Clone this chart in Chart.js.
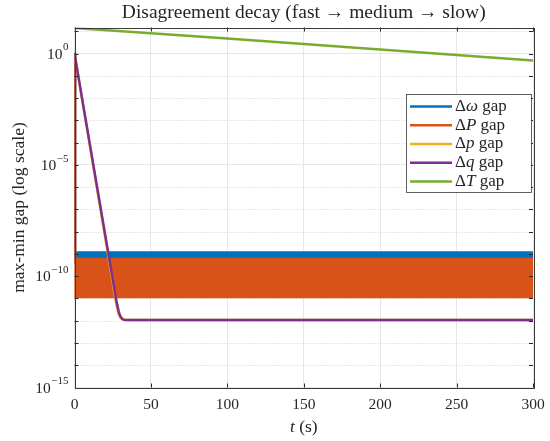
<!DOCTYPE html>
<html>
<head>
<meta charset="utf-8">
<script src="https://cdn.jsdelivr.net/npm/chart.js@4.4.0/dist/chart.umd.min.js"></script>
<style>html,body{margin:0;padding:0;background:#fff}#wrap{width:550px;height:441px}</style>
</head>
<body>
<div id="wrap"><canvas id="c" width="550" height="441"></canvas></div>
<script>
/* Disagreement decay chart */
const SERIF='"Liberation Serif","DejaVu Serif",serif';
const INK='#262626';

// time grids (s) and gap values
const tDrop=[0,0.3,300];
const omegaHi=[1.1,1.15e-9,1.15e-9];     // upper edge of the blue band
const omegaLo=[1.1,4e-10,4e-10];         // lower edge (hidden under orange)
const powerHi=[1,5.9e-10,5.9e-10];       // upper edge of the orange band
const powerLo=[1,1.17e-11,1.17e-11];     // lower edge of the orange band
const tP=[0,5,10,15,20,25,27,28,29,30,31,33,300];
const pGap=[1,8.5e-3,7.5e-5,6.5e-7,5.8e-9,5.2e-11,7.5e-12,3.5e-12,1.9e-12,1.4e-12,1.18e-12,1.07e-12,1.07e-12];
const tQ=[0,5,10,15,20,25,27,28,29,30,31,32,34,300];
const qGap=[1,9.3e-3,8.9e-5,8.3e-7,7.9e-9,7.4e-11,1.12e-11,5e-12,2.5e-12,1.58e-12,1.26e-12,1.12e-12,1.07e-12,1.07e-12];
const tT=[0,100,200,300];
const TGap=[14,4.75,1.52,0.49];

const seriesSymbols=['ω','P','p','q','T'];
const seriesColors=['#0072BD','#D95319','#EDB120','#7E2F8E','#77AC30'];
const xTicks=[0,50,100,150,200,250,300];
const yDecades=[-15,-14,-13,-12,-11,-10,-9,-8,-7,-6,-5,-4,-3,-2,-1,0,1];
const yLabelExps=[0,-5,-10,-15];
const yMin=1e-15,yMax=14.8;

const pts=(xs,ys)=>xs.map((x,i)=>({x,y:ys[i]}));
const isMajor=v=>Math.round(Math.log10(v))%5===0;
const decadeTicks=s=>{s.ticks=yDecades.map(e=>({value:Math.pow(10,e)}));};

function line(label,data,color,order,extra){
  return Object.assign({label,data,borderColor:color,backgroundColor:color,borderWidth:2.5,
    pointRadius:0,tension:0,order,fill:false},extra||{});
}

const datasets=[
  line(seriesSymbols[0],pts(tDrop,omegaHi),seriesColors[0],6,{fill:'+1'}),
  line('',pts(tDrop,omegaLo),seriesColors[0],6),
  line(seriesSymbols[1],pts(tDrop,powerHi),seriesColors[1],5,{fill:'+1'}),
  line('',pts(tDrop,powerLo),seriesColors[1],5),
  line(seriesSymbols[2],pts(tP,pGap),seriesColors[2],3),
  line(seriesSymbols[3],pts(tQ,qGap),seriesColors[3],2),
  line(seriesSymbols[4],pts(tT,TGap),seriesColors[4],1)
];

// draw a run of upright / italic pieces
function runs(ctx,parts,x,y,size,align){
  const w=parts.map(p=>{ctx.font=(p.it?'italic ':'')+size+'px '+SERIF;return ctx.measureText(p.t).width;});
  const tot=w.reduce((a,b)=>a+b,0);
  let cx=align==='center'?x-tot/2:align==='right'?x-tot:x;
  ctx.textAlign='left';ctx.textBaseline='middle';
  parts.forEach((p,i)=>{ctx.font=(p.it?'italic ':'')+size+'px '+SERIF;ctx.fillText(p.t,cx,y);cx+=w[i];});
}

const decor={
  id:'decor',
  beforeDatasetsDraw(chart){
    // dotted minor decade grid
    const {ctx,chartArea:ca,scales}=chart;
    ctx.save();ctx.strokeStyle='#d2d2d2';ctx.lineWidth=1;ctx.setLineDash([1,2]);ctx.beginPath();
    yDecades.forEach(e=>{
      if(e%5===0)return;
      const py=Math.round(scales.y.getPixelForValue(Math.pow(10,e)))+0.5;
      if(py<ca.top||py>ca.bottom)return;
      ctx.moveTo(ca.left,py);ctx.lineTo(ca.right,py);
    });
    ctx.stroke();ctx.restore();
  },
  afterDraw(chart){
    const {ctx,chartArea:ca,scales}=chart;
    const ys=scales.y,xs=scales.x;
    ctx.save();
    // inward ticks
    ctx.strokeStyle=INK;ctx.lineWidth=1;ctx.beginPath();
    yDecades.forEach(e=>{
      const py=Math.round(ys.getPixelForValue(Math.pow(10,e)))+0.5;
      if(py<ca.top||py>ca.bottom)return;
      ctx.moveTo(ca.left,py);ctx.lineTo(ca.left+4,py);
      ctx.moveTo(ca.right,py);ctx.lineTo(ca.right-4,py);
    });
    xTicks.forEach(v=>{
      const px=Math.round(xs.getPixelForValue(v))+0.5;
      ctx.moveTo(px,ca.bottom);ctx.lineTo(px,ca.bottom-4);
      ctx.moveTo(px,ca.top);ctx.lineTo(px,ca.top+4);
    });
    ctx.stroke();
    // frame
    ctx.strokeStyle='#3a3a3a';
    ctx.strokeRect(Math.round(ca.left)+0.5,Math.round(ca.top)+0.5,Math.round(ca.right-ca.left),Math.round(ca.bottom-ca.top));
    // y tick labels with exponents
    ctx.fillStyle=INK;
    yLabelExps.forEach(e=>{
      const py=ys.getPixelForValue(Math.pow(10,e));
      const ex=String(e).replace('-','\u2212');
      ctx.font='11px '+SERIF;const we=ctx.measureText(ex).width;
      ctx.textAlign='left';ctx.textBaseline='middle';
      const r=ca.left-6;
      ctx.fillText(ex,r-we,py-6);
      ctx.font='15.5px '+SERIF;ctx.textAlign='right';
      ctx.fillText('10',r-we-0.5,py+1);
    });
    // title and axis titles
    const cx=(ca.left+ca.right)/2;
    runs(ctx,[{t:'Disagreement decay (fast \u2192 medium \u2192 slow)'}],cx,13,19.5,'center');
    runs(ctx,[{t:'t',it:true},{t:' (s)'}],cx,427,17.5,'center');
    ctx.save();ctx.translate(19,(ca.top+ca.bottom)/2);ctx.rotate(-Math.PI/2);
    runs(ctx,[{t:'max-min gap (log scale)'}],0,0,17.5,'center');
    ctx.restore();
    // legend
    const bx=ca.right-127,by=94,bw=125,bh=98;
    ctx.fillStyle='#fff';ctx.fillRect(bx,by,bw,bh);
    ctx.strokeStyle='#3a3a3a';ctx.lineWidth=0.8;ctx.strokeRect(bx+0.5,by+0.5,bw,bh);
    const items=chart.data.datasets.filter(d=>d.label);
    items.forEach((d,i)=>{
      const ry=by+12.5+i*18.75;
      ctx.strokeStyle=d.borderColor;ctx.lineWidth=2.5;
      ctx.beginPath();ctx.moveTo(bx+4,ry);ctx.lineTo(bx+46,ry);ctx.stroke();
      ctx.fillStyle=INK;
      runs(ctx,[{t:'\u0394'},{t:d.label,it:true},{t:' gap'}],bx+49,ry,17,'left');
    });
    ctx.restore();
  }
};

new Chart(document.getElementById('c'),{
  type:'line',
  data:{datasets},
  options:{
    responsive:false,animation:false,
    layout:{padding:{left:0,right:17,top:27.5,bottom:0}},
    plugins:{legend:{display:false},tooltip:{enabled:false},title:{display:false}},
    scales:{
      x:{type:'linear',min:0,max:300,
        afterBuildTicks:s=>{s.ticks=xTicks.map(v=>({value:v}));},
        grid:{color:'#e6e6e6',drawTicks:false},border:{display:false},
        ticks:{font:{family:SERIF,size:15.5},color:INK,padding:8,maxRotation:0},
        afterFit:s=>{s.height=53.5;s.paddingRight=0;s.paddingLeft=0;}},
      y:{type:'logarithmic',min:yMin,max:yMax,afterBuildTicks:decadeTicks,
        ticks:{display:false},border:{display:false},
        grid:{drawTicks:false,color:c=>isMajor(c.tick.value)?'#e6e6e6':'rgba(0,0,0,0)'},
        afterFit:s=>{s.width=74.5;s.paddingTop=0;s.paddingBottom=0;}}
    }
  },
  plugins:[decor]
});
</script>
</body>
</html>
